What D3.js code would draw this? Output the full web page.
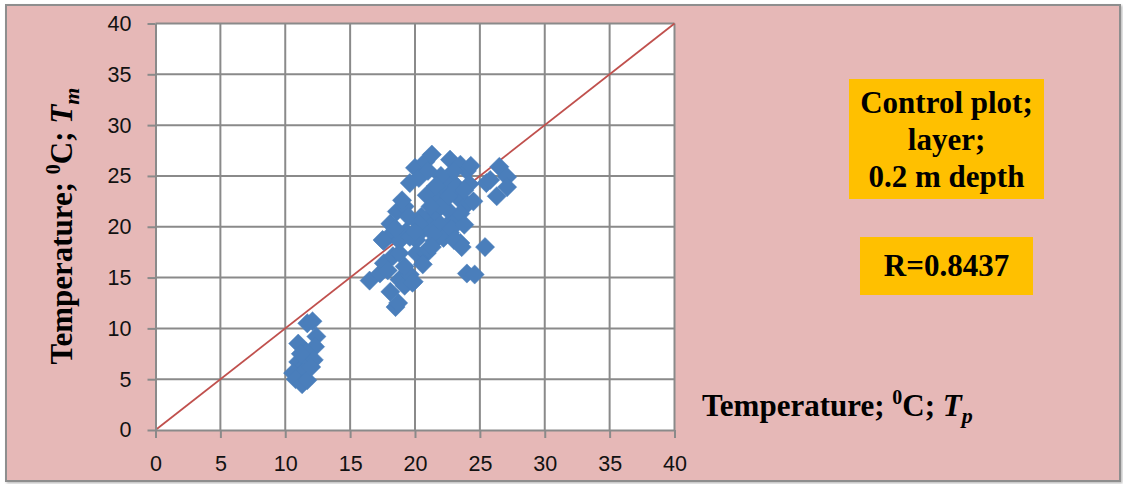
<!DOCTYPE html>
<html>
<head>
<meta charset="utf-8">
<script src="https://cdn.jsdelivr.net/npm/d3@7/dist/d3.min.js"></script>
<style>
  html, body { margin: 0; padding: 0; background: #ffffff; }
  svg { display: block; }
</style>
</head>
<body>
<svg id="chart" width="1123" height="484"></svg>
<script>
// Measured vs. predicted temperature, control plot, 0.2 m depth
const tpValues = [
  11.7, 12.1, 12.4, 11.0, 12.3, 11.6, 12.2, 11.0, 11.4, 10.6, 11.4, 10.8, 11.3, 11.7, 12.0, 11.2,
  16.5, 17.3, 17.6, 17.9, 18.1, 18.5, 18.7, 18.8, 19.2, 19.9, 19.6, 19.2, 18.3, 18.8, 17.6, 18.1,
  18.1, 18.6, 19.2, 19.0, 19.5, 19.6, 20.0, 20.8, 21.3, 20.3, 20.9, 20.1, 20.1, 20.6, 20.9, 21.2,
  21.9, 22.7, 22.9, 21.5, 22.2, 23.5, 24.0, 24.6, 25.4, 22.7, 23.5, 24.0, 22.7, 22.2, 23.5, 24.0,
  23.5, 22.5, 21.8, 23.2, 24.2, 25.5, 26.5, 27.1, 27.1, 26.3, 25.8, 20.5, 21.5, 22.8, 23.8, 23.0,
  21.4, 20.3, 19.3, 18.8, 21.0, 20.6, 22.0, 21.0, 23.8, 24.3, 22.0, 22.6, 21.2, 24.5, 23.0, 21.6,
  19.6, 20.0, 18.5, 21.3, 23.1, 23.6, 17.5, 19.8
];
const tmValues = [
  10.5, 10.7, 9.2, 8.5, 8.2, 7.7, 6.9, 6.7, 6.2, 5.6, 5.7, 5.0, 4.5, 4.9, 6.2, 7.5,
  14.7, 15.4, 16.4, 15.7, 13.6, 12.1, 12.5, 14.8, 14.2, 14.6, 15.3, 16.1, 17.1, 17.4, 18.6, 19.2,
  20.3, 21.5, 22.0, 22.6, 21.0, 24.3, 25.8, 26.4, 27.1, 24.8, 23.1, 18.7, 17.4, 19.7, 17.4, 20.7,
  20.3, 19.4, 20.7, 18.6, 18.9, 18.4, 15.4, 15.3, 18.0, 26.6, 26.1, 25.5, 24.6, 23.6, 22.6, 22.2,
  21.3, 21.7, 22.5, 24.0, 24.2, 24.3, 25.9, 24.9, 23.9, 23.0, 24.6, 21.0, 21.5, 19.8, 20.2, 18.7,
  19.3, 20.3, 19.5, 18.6, 17.8, 16.3, 25.0, 25.5, 23.6, 26.0, 22.0, 23.0, 22.0, 22.5, 25.5, 24.0,
  19.0, 19.5, 19.8, 18.0, 18.7, 18.0, 18.7, 14.5
];
const axisTicks = [0, 5, 10, 15, 20, 25, 30, 35, 40];
const axisDomain = [0, 40];
const infoLines = ["Control plot;", "layer;", "0.2 m depth"];
const rLabel = "R=0.8437";

const points = tpValues.map((tp, i) => ({ tp, tm: tmValues[i] }));

const svg = d3.select("#chart");

// Chart frame with a soft drop shadow
const defs = svg.append("defs");
const shadow = defs.append("filter").attr("id", "frameShadow")
  .attr("x", "-2%").attr("y", "-2%").attr("width", "104%").attr("height", "104%");
shadow.append("feDropShadow").attr("dx", 1.5).attr("dy", 1.5)
  .attr("stdDeviation", 1).attr("flood-color", "#000").attr("flood-opacity", 0.25);

svg.append("rect")
  .attr("x", 6).attr("y", 5).attr("width", 1114).attr("height", 476)
  .attr("fill", "#e6b8b7").attr("stroke", "#8e8e8e").attr("stroke-width", 2)
  .attr("filter", "url(#frameShadow)");

// Plot area
const plot = { left: 155.5, right: 674.5, top: 23.5, bottom: 430 };
const x = d3.scaleLinear().domain(axisDomain).range([plot.left, plot.right]);
const y = d3.scaleLinear().domain(axisDomain).range([plot.bottom, plot.top]);

svg.append("rect")
  .attr("x", plot.left).attr("y", plot.top)
  .attr("width", plot.right - plot.left).attr("height", plot.bottom - plot.top)
  .attr("fill", "#ffffff");

const gridColor = "#8a8a8a";
const g = svg.append("g");

// Gridlines
g.selectAll("line.vgrid").data(axisTicks.slice(1)).join("line")
  .attr("class", "vgrid")
  .attr("x1", d => x(d)).attr("x2", d => x(d))
  .attr("y1", plot.top).attr("y2", plot.bottom)
  .attr("stroke", gridColor).attr("stroke-width", 2);
g.selectAll("line.hgrid").data(axisTicks.slice(1)).join("line")
  .attr("class", "hgrid")
  .attr("x1", plot.left).attr("x2", plot.right)
  .attr("y1", d => y(d)).attr("y2", d => y(d))
  .attr("stroke", gridColor).attr("stroke-width", 2);

// Axes
const tickFont = "'Liberation Sans', Arial, sans-serif";
const xAxis = d3.axisBottom(x).tickValues(axisTicks).tickSize(8).tickPadding(18).tickSizeOuter(0);
const yAxis = d3.axisLeft(y).tickValues(axisTicks).tickSize(8).tickPadding(16).tickSizeOuter(0);

const gx = svg.append("g").attr("transform", `translate(0,${plot.bottom})`).call(xAxis);
const gy = svg.append("g").attr("transform", `translate(${plot.left},0)`).call(yAxis);
[gx, gy].forEach(a => {
  a.select(".domain").attr("stroke", gridColor).attr("stroke-width", 2);
  a.selectAll(".tick line").attr("stroke", gridColor).attr("stroke-width", 2);
  a.selectAll(".tick text").attr("fill", "#111").attr("font-family", tickFont).attr("font-size", 21.5);
});

// 1:1 reference line
g.append("line")
  .attr("x1", x(axisDomain[0])).attr("y1", y(axisDomain[0]))
  .attr("x2", x(axisDomain[1])).attr("y2", y(axisDomain[1]))
  .attr("stroke", "#c0504d").attr("stroke-width", 1.8);

// Diamond markers
const diamond = d3.symbol().type(d3.symbolDiamond2).size(235);
svg.append("g").selectAll("path").data(points).join("path")
  .attr("d", diamond)
  .attr("transform", d => `translate(${x(d.tp)},${y(d.tm)})`)
  .attr("fill", "#4a7ebb")
  .attr("stroke", "#4a7ebb").attr("stroke-width", 0.5);

// Axis titles
const serif = "'Liberation Serif', 'Times New Roman', serif";
const titleSize = 31;
function axisTitle(sel, sub) {
  sel.attr("font-family", serif).attr("font-weight", "bold").attr("font-size", titleSize).attr("fill", "#000");
  sel.append("tspan").text("Temperature; ");
  sel.append("tspan").text("0").attr("font-size", 20).attr("dy", -12);
  sel.append("tspan").text("C; ").attr("dy", 12);
  sel.append("tspan").text("T").attr("font-style", "italic");
  sel.append("tspan").text(sub).attr("font-style", "italic").attr("font-size", 22).attr("dy", 7);
}
axisTitle(svg.append("text").attr("x", 702).attr("y", 416), "p");
axisTitle(svg.append("text")
  .attr("transform", "translate(72,226) rotate(-90)")
  .attr("text-anchor", "middle"), "m");

// Info boxes
const box1 = { x: 849, y: 79, w: 195, h: 120 };
svg.append("rect").attr("x", box1.x).attr("y", box1.y).attr("width", box1.w).attr("height", box1.h)
  .attr("fill", "#ffc000");
svg.append("g").selectAll("text").data(infoLines).join("text")
  .attr("x", box1.x + box1.w / 2)
  .attr("y", (d, i) => box1.y + 34 + i * 37)
  .attr("text-anchor", "middle")
  .attr("font-family", serif).attr("font-weight", "bold").attr("font-size", titleSize).attr("fill", "#000")
  .text(d => d);

const box2 = { x: 860, y: 237, w: 173, h: 58 };
svg.append("rect").attr("x", box2.x).attr("y", box2.y).attr("width", box2.w).attr("height", box2.h)
  .attr("fill", "#ffc000");
svg.append("text")
  .attr("x", box2.x + box2.w / 2).attr("y", box2.y + 39)
  .attr("text-anchor", "middle")
  .attr("font-family", serif).attr("font-weight", "bold").attr("font-size", titleSize).attr("fill", "#000")
  .text(rLabel);
</script>
</body>
</html>
